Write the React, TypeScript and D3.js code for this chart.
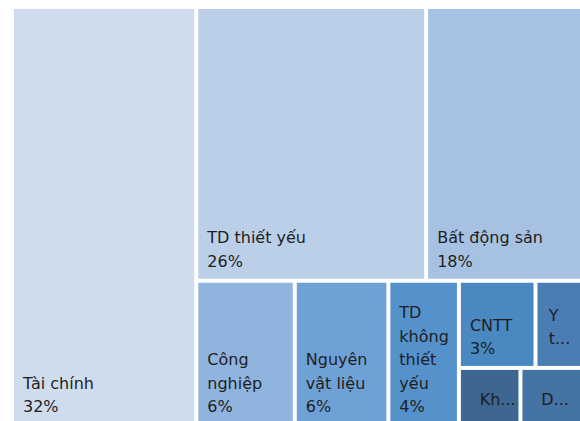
import React from "react";
import * as d3 from "d3";

// ---- data ----
const SECTORS = [
  "Tài chính",
  "TD thiết yếu",
  "Bất động sản",
  "Công nghiệp",
  "Nguyên vật liệu",
  "TD không thiết yếu",
  "CNTT",
  "Y tế",
  "Khác",
  "Dịch vụ",
];
const WEIGHTS = [32.4, 26.4, 17.9, 6.0, 5.7, 4.3, 2.8, 1.7, 1.5, 1.5];
// label text as shown (wrapped / truncated) in each cell
const NAME_LINES: string[][] = [
  ["Tài chính"],
  ["TD thiết yếu"],
  ["Bất động sản"],
  ["Công", "nghiệp"],
  ["Nguyên", "vật liệu"],
  ["TD", "không", "thiết", "yếu"],
  ["CNTT"],
  ["Y", "t..."],
  ["Kh..."],
  ["D..."],
];
// grouping of the sector indices into the treemap's strips
const LAYOUT_TREE: any = [0, [[1, 2], [3, 4, 5, [[6, 7], [8, 9]]]]];

// ---- styles ----
const COLORS = [
  "#CFDCEE",
  "#BBCFE8",
  "#A7C1E3",
  "#8FB4DE",
  "#6FA1D6",
  "#5592CB",
  "#4A88C2",
  "#4A7DB3",
  "#3D6690",
  "#4574A4",
];

const W = 580;
const H = 421;
const X0 = 14;
const Y0 = 9;
const TW = 566;
const TH = 415;
const LINE_H = 23.4;
const FONT = "'DejaVu Sans', Verdana, sans-serif";

export default function App() {
  const root = d3
    .hierarchy<any>(LAYOUT_TREE, (d) => (Array.isArray(d) ? d : null))
    .sum((d) => (typeof d === "number" ? WEIGHTS[d] : 0));

  d3.treemap<any>()
    .tile(d3.treemapSliceDice)
    .size([TW, TH])
    .paddingInner(4)
    .round(false)(root);

  const leaves = root.leaves() as d3.HierarchyRectangularNode<any>[];

  return (
    <svg
      width={W}
      height={H}
      style={{ position: "absolute", left: 0, top: 0, display: "block", background: "#fff" }}
    >
      <g transform={`translate(${X0},${Y0})`}>
        {leaves.map((leaf) => {
          const i = leaf.data as number;
          const truncated = NAME_LINES[i].some((l) => l.endsWith("..."));
          const lines = truncated
            ? NAME_LINES[i]
            : [...NAME_LINES[i], `${Math.round(WEIGHTS[i])}%`];
          const n = lines.length;
          let tx: number;
          let firstBase: number;
          if (truncated) {
            const cx = (leaf.x0 + leaf.x1) / 2;
            const cy = (leaf.y0 + leaf.y1) / 2;
            tx = cx - 10;
            firstBase = cy - ((n - 1) * LINE_H) / 2 + 8;
          } else {
            tx = leaf.x0 + 9;
            firstBase = leaf.y1 - 12 - (n - 1) * LINE_H;
          }
          return (
            <g key={i}>
              <rect
                x={leaf.x0}
                y={leaf.y0}
                width={leaf.x1 - leaf.x0}
                height={leaf.y1 - leaf.y0}
                fill={COLORS[i]}
              />
              <text fontFamily={FONT} fontSize={16} fill="#1e1e1e">
                {lines.map((l, k) => (
                  <tspan key={k} x={tx} y={firstBase + k * LINE_H}>
                    {l}
                  </tspan>
                ))}
              </text>
            </g>
          );
        })}
      </g>
    </svg>
  );
}
